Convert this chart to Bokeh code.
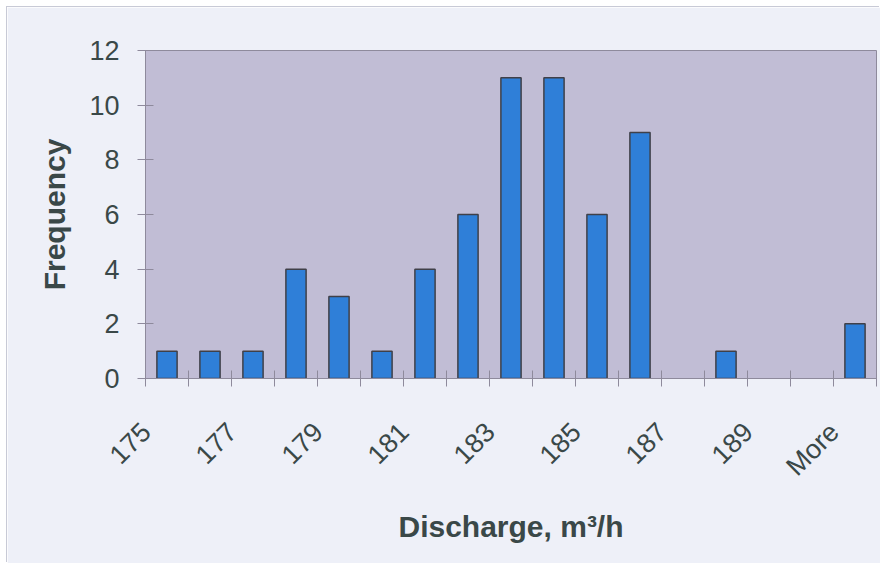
import math
from bokeh.plotting import figure
from bokeh.models import (FixedTicker, CustomJSTickFormatter, Range1d,
                          ColumnDataSource, CDSView, BooleanFilter)
from bokeh.embed import file_html
from bokeh.resources import INLINE

# ---- data ----
bins = ["175", "176", "177", "178", "179", "180", "181", "182", "183",
        "184", "185", "186", "187", "188", "189", "190", "More"]
frequency = [1, 1, 1, 4, 3, 1, 4, 6, 11, 11, 6, 9, 0, 1, 0, 0, 2]
y_ticks = [0, 2, 4, 6, 8, 10, 12]

n = len(bins)
centers = [i + 0.5 for i in range(n)]
src = ColumnDataSource(dict(x=centers, top=frequency, label=bins))
view = CDSView(filter=BooleanFilter([v > 0 for v in frequency]))

FONT = "Liberation Sans"
TXT = "#3a4848"
AX = "#8e8a9c"
LABEL_SHIFT = 0.48  # labels sit slightly left of the bar centre, as in Excel

p = figure(width=873, height=556, output_backend="svg", toolbar_location=None,
           x_range=Range1d(0, n), y_range=Range1d(0, 12),
           min_border_left=138, min_border_right=4, min_border_top=43,
           min_border_bottom=185)
p.margin = (7, 0, 0, 7)
p.styles = {"box-shadow": "-1px -1px 0 #c8cad6"}
p.border_fill_color = "#eef0f8"
p.background_fill_color = "#c1bdd5"
p.outline_line_color = AX
p.outline_line_width = 1
p.xgrid.visible = False
p.ygrid.visible = False

p.vbar(x="x", top="top", width=0.47, source=src, view=view,
       fill_color="#2f7fd8", line_color="#404048", line_width=1.5)

# x axis
xa = p.xaxis[0]
xa.ticker = FixedTicker(ticks=[c - LABEL_SHIFT for c in centers[::2]],
                        minor_ticks=list(range(n + 1)))
xa.formatter = CustomJSTickFormatter(args=dict(labels=bins, shift=LABEL_SHIFT), code="""
    const i = Math.round(tick + shift - 0.5);
    return (i >= 0 && i < labels.length) ? labels[i] : "";
""")
xa.major_label_orientation = math.pi / 4
xa.major_tick_out = 0
xa.major_tick_in = 0
xa.minor_tick_out = 8
xa.minor_tick_in = 8
xa.minor_tick_line_color = AX
xa.axis_line_color = AX
xa.major_label_text_font = FONT
xa.major_label_text_font_size = "27px"
xa.major_label_text_color = TXT
xa.major_label_standoff = 41
xa.axis_label = "Discharge, m³/h"
xa.axis_label_text_font = FONT
xa.axis_label_text_font_style = "bold"
xa.axis_label_text_font_size = "30px"
xa.axis_label_text_color = TXT
xa.axis_label_standoff = 15

# y axis
ya = p.yaxis[0]
ya.ticker = FixedTicker(ticks=y_ticks)
ya.major_tick_out = 8
ya.major_tick_in = 8
ya.minor_tick_out = 0
ya.minor_tick_in = 0
ya.major_tick_line_color = AX
ya.axis_line_color = AX
ya.major_label_text_font = FONT
ya.major_label_text_font_size = "27px"
ya.major_label_text_color = TXT
ya.major_label_standoff = 18
ya.axis_label = "Frequency"
ya.axis_label_text_font = FONT
ya.axis_label_text_font_style = "bold"
ya.axis_label_text_font_size = "30px"
ya.axis_label_text_color = TXT
ya.axis_label_standoff = 15

open("out.html", "w").write(file_html(p, INLINE))
